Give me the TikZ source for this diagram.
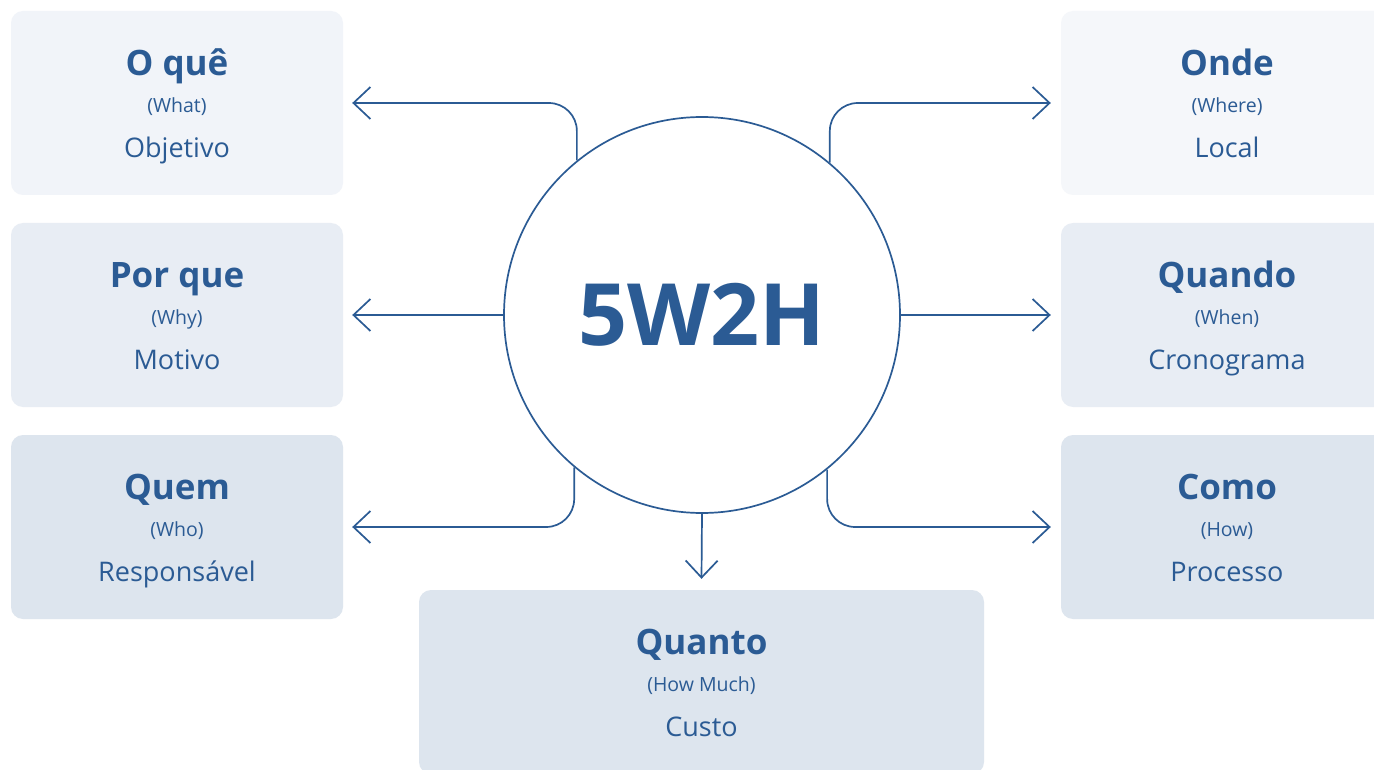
\documentclass[tikz,border=0pt]{standalone}
\usepackage{fontspec}
\setmainfont{Open Sans}
\usetikzlibrary{arrows.meta}
\definecolor{ink}{HTML}{2B5B94}
\definecolor{fillA}{HTML}{F1F4F9}
\definecolor{fillAr}{HTML}{F5F7FA}
\definecolor{fillB}{HTML}{E8EDF4}
\definecolor{fillC}{HTML}{DDE5EE}
\tikzset{
  card/.style={rounded corners=12pt, minimum width=332pt, minimum height=184pt, inner sep=0pt, draw=none},
  ttl/.style={text=ink, font=\fontsize{35}{40}\selectfont\bfseries, inner sep=0pt, anchor=base},
  sub/.style={text=ink, font=\fontsize{19.5}{22}\selectfont, inner sep=0pt, anchor=base},
  dsc/.style={text=ink, font=\fontsize{27}{32}\selectfont, inner sep=0pt, anchor=base},
  conn/.style={draw=ink, line width=1.7pt, rounded corners=28pt,
    -{Straight Barb[length=17pt,width=32pt,line width=1.7pt]}},
}
\begin{document}
\begin{tikzpicture}[x=1pt,y=-1pt]
\clip (0,0) rectangle (1374,770);
\fill[white] (0,0) rectangle (1374,770);
% cards
\node[card, fill=fillA]  (b1) at (177,103) {};
\node[card, fill=fillB]  (b2) at (177,315) {};
\node[card, fill=fillC]  (b3) at (177,527) {};
\node[card, fill=fillAr] (r1) at (1227,103) {};
\node[card, fill=fillB]  (r2) at (1227,315) {};
\node[card, fill=fillC]  (r3) at (1227,527) {};
\node[card, fill=fillC, minimum width=565pt] (bq) at (701.5,682) {};
% texts
\foreach \n/\t/\s/\d in {b1/O quê/(What)/Objetivo, b2/Por que/(Why)/Motivo, b3/Quem/(Who)/Responsável,
  r1/Onde/(Where)/Local, r2/Quando/(When)/Cronograma, r3/Como/(How)/Processo}{
  \node[ttl] (\n t) at ([yshift=-65pt]\n.north) {\t};
  \node[sub] (\n s) at ([yshift=-102pt]\n.north) {\s};
  \node[dsc] (\n d) at ([yshift=-147pt]\n.north) {\d};
}
\node[ttl] (bqt) at ([yshift=-65pt]bq.north) {Quanto};
\node[sub] (bqs) at ([yshift=-102pt]bq.north) {(How Much)};
\node[dsc] (bqd) at ([yshift=-147pt]bq.north) {Custo};
% circle
\node[circle, draw=ink, line width=1.7pt, fill=white, minimum size=396pt, inner sep=0pt,
  text=ink, font=\fontsize{86}{96}\selectfont\bfseries] (c) at (702,315) {5W2H};
% connectors
\draw[conn] (c.129.5) |- ([xshift=9pt]b1.east);
\draw[conn] (c.west) -- ([xshift=9pt]b2.east);
\draw[conn] (c.230.5) |- ([xshift=9pt]b3.east);
\draw[conn] (c.50.5) |- ([xshift=-10pt]r1.west);
\draw[conn] (c.east) -- ([xshift=-10pt]r2.west);
\draw[conn] (c.309.5) |- ([xshift=-10pt]r3.west);
\draw[conn] (c.south) -- ([yshift=11pt]bq.north);
\end{tikzpicture}
\end{document}
